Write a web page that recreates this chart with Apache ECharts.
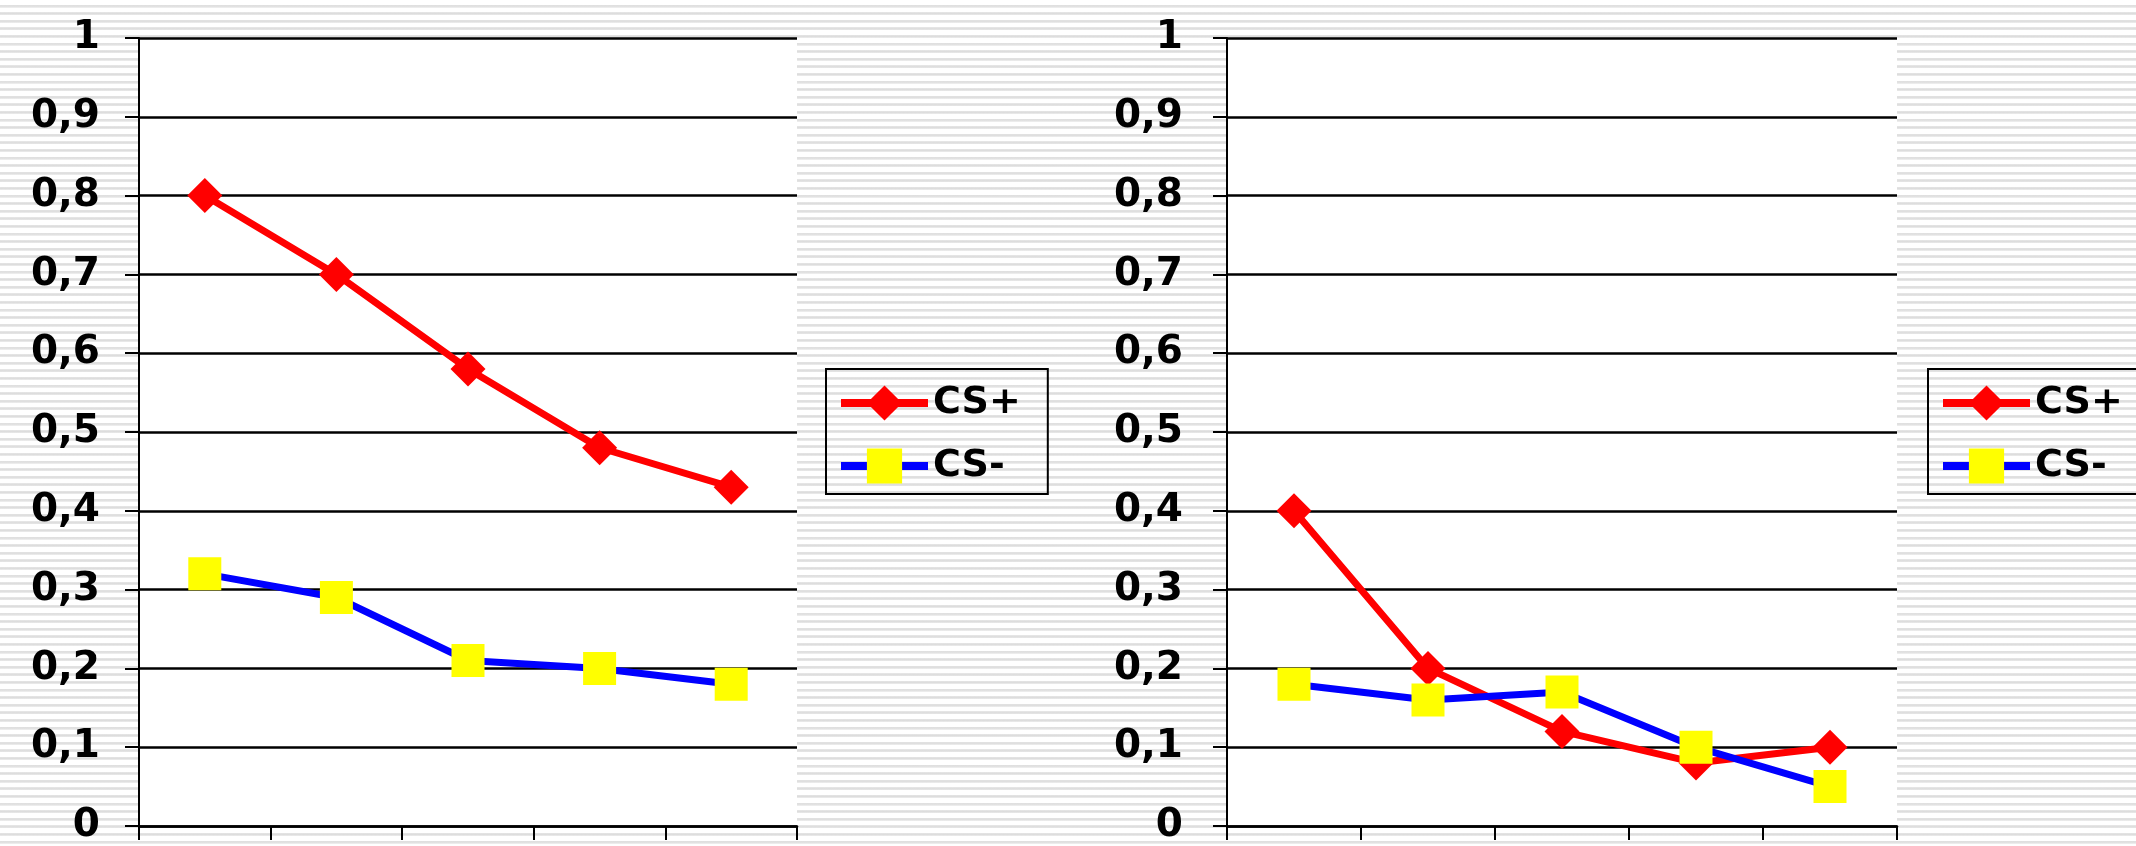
<!DOCTYPE html>
<html>
<head>
<meta charset="utf-8">
<script src="https://cdn.jsdelivr.net/npm/echarts@6/dist/echarts.min.js"></script>
<style>
  html, body {
    margin: 0;
    padding: 0;
  }
  body {
    background: repeating-linear-gradient(to bottom, #fff 0, #fff 4.6px, #e6e6e6 4.6px, #dcdcdc 6px, #ededed 7.6px);
  }
  #main {
    width: 2136px;
    height: 846px;
  }
</style>
</head>
<body>
<div id="main"></div>
<script>
// categories (no labels shown on the x axis)
const categories = ["1", "2", "3", "4", "5"];
const seriesNames = ["CS+", "CS-"];

// left chart
const leftPlus = [0.8, 0.7, 0.58, 0.48, 0.43];
const leftMinus = [0.32, 0.29, 0.21, 0.2, 0.18];

// right chart
const rightPlus = [0.4, 0.2, 0.12, 0.08, 0.1];
const rightMinus = [0.18, 0.16, 0.17, 0.1, 0.05];

const font = "DejaVu Sans";

function xAxis(idx) {
  return {
    type: "category",
    gridIndex: idx,
    data: categories,
    boundaryGap: true,
    axisLine: { lineStyle: { color: "#000", width: 2.5 } },
    axisTick: { show: true, length: 14, lineStyle: { color: "#000", width: 2 } },
    axisLabel: { show: false },
  };
}

function yAxis(idx, margin) {
  return {
    type: "value",
    gridIndex: idx,
    min: 0,
    max: 1,
    interval: 0.1,
    axisLine: { show: true, lineStyle: { color: "#000", width: 2 } },
    axisTick: { show: true, length: 14, lineStyle: { color: "#000", width: 2 } },
    splitLine: { lineStyle: { color: "#000", width: 2.5 } },
    axisLabel: {
      margin: margin,
      color: "#000",
      fontFamily: font,
      fontWeight: "bold",
      fontSize: 39,
      formatter: function (v) {
        return String(Math.round(v * 10) / 10).replace(".", ",");
      },
    },
  };
}

function plusSeries(idx, data) {
  return {
    name: "CS+",
    type: "line",
    xAxisIndex: idx,
    yAxisIndex: idx,
    data: data,
    symbol: "diamond",
    symbolSize: 35,
    itemStyle: { color: "#ff0000", borderWidth: 0 },
    lineStyle: { color: "#ff0000", width: 7 },
  };
}

function minusSeries(idx, data) {
  return {
    name: "CS-",
    type: "line",
    xAxisIndex: idx,
    yAxisIndex: idx,
    data: data,
    symbol: "rect",
    symbolSize: 33,
    itemStyle: { color: "#ffff00", borderWidth: 0 },
    lineStyle: { color: "#0000ff", width: 7 },
  };
}

function legend(left) {
  return {
    orient: "vertical",
    left: left,
    top: 369,
    data: seriesNames,
    padding: [15, 27, 9, 11],
    itemGap: 25,
    itemWidth: 87,
    itemHeight: 44,
    borderColor: "#000",
    borderWidth: 2,
    lineStyle: { width: 8 },
    textStyle: { color: "#000", fontFamily: font, fontWeight: "bold", fontSize: 38 },
  };
}

const myChart = echarts.init(document.getElementById("main"));
myChart.setOption({
  animation: false,
  backgroundColor: "transparent",
  grid: [
    { left: 139, top: 38, width: 658, height: 788, show: true, backgroundColor: "#fff", borderWidth: 0 },
    { left: 1227, top: 38, width: 670, height: 788, show: true, backgroundColor: "#fff", borderWidth: 0 },
  ],
  legend: [legend(826), legend(1928)],
  xAxis: [xAxis(0), xAxis(1)],
  yAxis: [yAxis(0, 39), yAxis(1, 44)],
  series: [
    plusSeries(0, leftPlus),
    minusSeries(0, leftMinus),
    plusSeries(1, rightPlus),
    minusSeries(1, rightMinus),
  ],
});
</script>
</body>
</html>
